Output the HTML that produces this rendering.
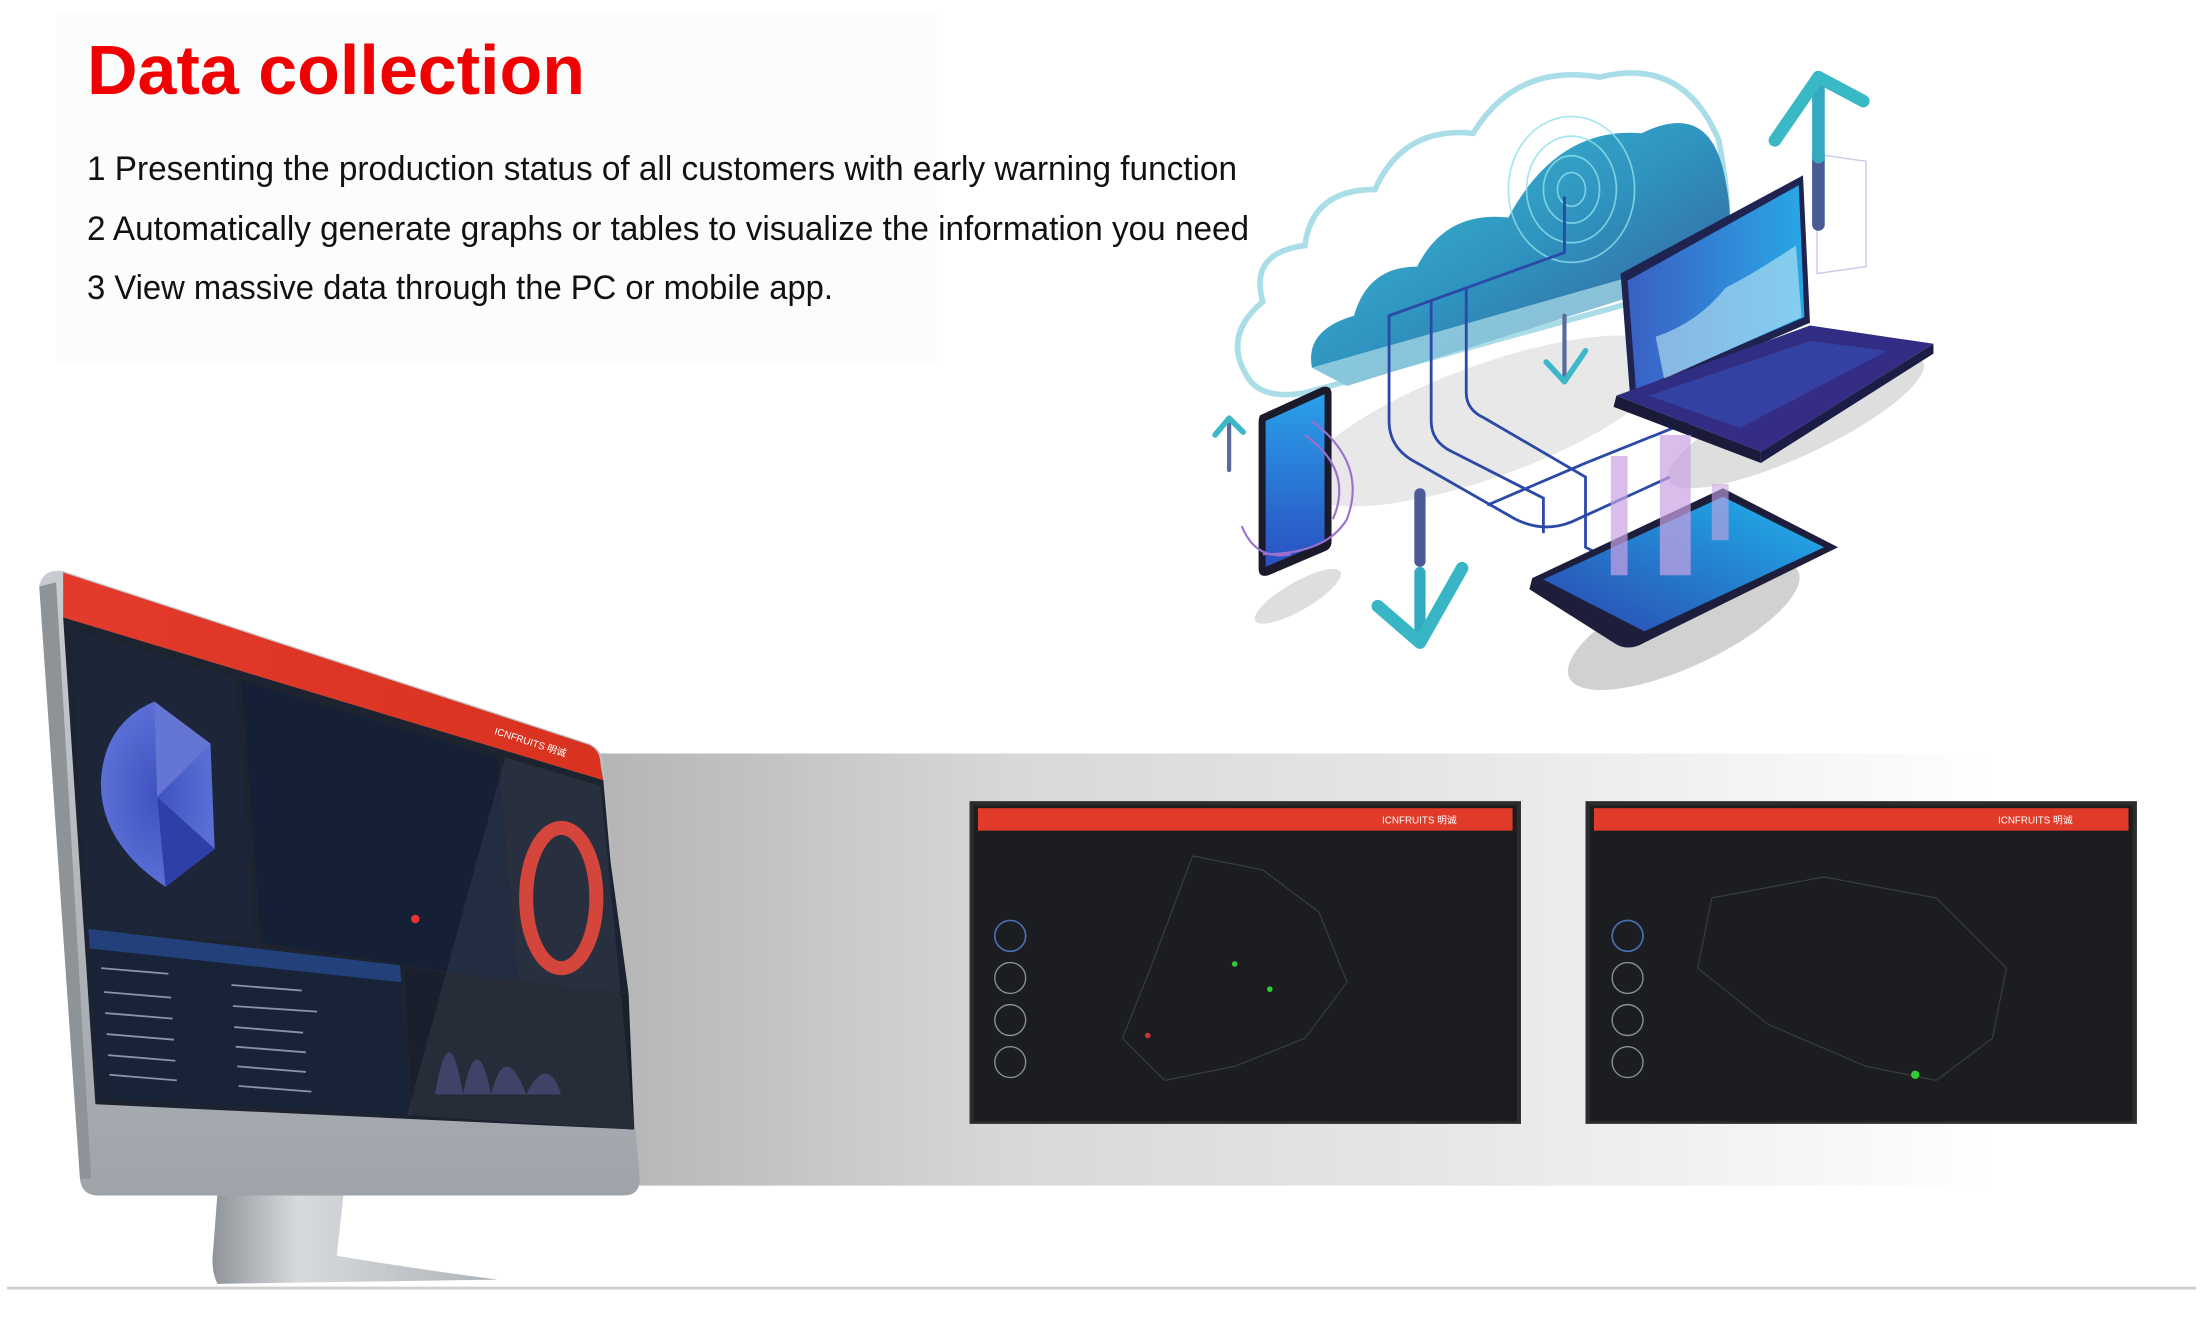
<!DOCTYPE html>
<html><head><meta charset="utf-8"><style>
html,body{margin:0;padding:0;background:#fff;}
svg{display:block}
</style></head><body>
<svg width="2200" height="1320" viewBox="0 0 2200 1320" xmlns="http://www.w3.org/2000/svg">
<defs>
<linearGradient id="band" x1="0" x2="1" y1="0" y2="0">
<stop offset="0" stop-color="#b4b4b4"/><stop offset="0.3" stop-color="#d8d8d8"/><stop offset="0.6" stop-color="#e6e6e6"/><stop offset="0.9" stop-color="#f8f8f8"/><stop offset="1" stop-color="#fff"/></linearGradient>
<linearGradient id="cloud" x1="0" y1="0" x2="1" y2="1">
<stop offset="0" stop-color="#3fc3d6"/><stop offset="0.5" stop-color="#2f93bf"/><stop offset="1" stop-color="#3a4f8e"/></linearGradient>
<linearGradient id="red" x1="0" y1="0" x2="1" y2="0"><stop offset="0" stop-color="#e33a2c"/><stop offset="1" stop-color="#d9321f"/></linearGradient>
<linearGradient id="silver" x1="0" y1="0" x2="1" y2="0"><stop offset="0" stop-color="#8f9499"/><stop offset="0.3" stop-color="#d7dadd"/><stop offset="1" stop-color="#aeb3b8"/></linearGradient>
<linearGradient id="chin" x1="0" y1="0" x2="0" y2="1"><stop offset="0" stop-color="#c9ccd0"/><stop offset="1" stop-color="#9fa4aa"/></linearGradient>
<linearGradient id="lapscr" x1="0" y1="0" x2="1" y2="0"><stop offset="0" stop-color="#3b5fc4"/><stop offset="1" stop-color="#28a7e6"/></linearGradient>
<linearGradient id="lapbase" x1="0" y1="0" x2="1" y2="1"><stop offset="0" stop-color="#2a2f7e"/><stop offset="1" stop-color="#3b2a8a"/></linearGradient>
<linearGradient id="tab" x1="0" y1="1" x2="1" y2="0"><stop offset="0" stop-color="#2b46b0"/><stop offset="1" stop-color="#1fb4ec"/></linearGradient>
<linearGradient id="phone" x1="0" y1="0" x2="0" y2="1"><stop offset="0" stop-color="#2aa0ea"/><stop offset="1" stop-color="#2a50c0"/></linearGradient>
<radialGradient id="pie"><stop offset="0" stop-color="#3f52c0"/><stop offset="1" stop-color="#5a6fd6"/></radialGradient>
</defs>
<rect x="56" y="14" width="881" height="351" fill="#fbfcfc"/>
<text x="87" y="94" font-family="Liberation Sans, sans-serif" font-weight="bold" font-size="70" fill="#f00000" textLength="498" lengthAdjust="spacingAndGlyphs">Data collection</text>
<g font-family="Liberation Sans, sans-serif" font-size="34" fill="#111">
<text x="87" y="180" textLength="1150" lengthAdjust="spacingAndGlyphs">1 Presenting the production status of all customers with early warning function</text>
<text x="87" y="240" textLength="1162" lengthAdjust="spacingAndGlyphs">2 Automatically generate graphs or tables to visualize the information you need</text>
<text x="87" y="299" textLength="746" lengthAdjust="spacingAndGlyphs">3 View massive data through the PC or mobile app.</text>
</g>
<g transform="scale(1.4031)">
<rect x="420" y="537" width="1000" height="308" fill="url(#band)"/>
<line x1="5" y1="918" x2="1565" y2="918" stroke="#cfcfcf" stroke-width="2"/>
<g>
<rect x="691" y="571" width="393" height="230" fill="#2c2c2c"/>
<rect x="694" y="574" width="387" height="225" fill="#1c1d20"/>
<rect x="697" y="576" width="381" height="16" fill="#e03a28"/>
<text x="985" y="587" font-size="7" fill="#fff" font-family="Liberation Sans, sans-serif">ICNFRUITS 明诚</text>
<path d="M850 610 L900 620 L940 650 L960 700 L930 740 L880 760 L830 770 L800 740 L820 690 Z" fill="none" stroke="#3a3d44" stroke-width="0.8"/>
<g fill="none" stroke="#4a6fb0" stroke-width="1.2"><circle cx="720" cy="667" r="11"/></g>
<g fill="none" stroke="#8a8f96" stroke-width="1"><circle cx="720" cy="697" r="11"/><circle cx="720" cy="727" r="11"/><circle cx="720" cy="757" r="11"/></g>
<circle cx="880" cy="687" r="2" fill="#3c3"/><circle cx="905" cy="705" r="2" fill="#3c3"/><circle cx="818" cy="738" r="2" fill="#c33"/>
</g>
<g>
<rect x="1130" y="571" width="393" height="230" fill="#2c2c2c"/>
<rect x="1133" y="574" width="387" height="225" fill="#1c1d20"/>
<rect x="1136" y="576" width="381" height="16" fill="#e03a28"/>
<text x="1424" y="587" font-size="7" fill="#fff" font-family="Liberation Sans, sans-serif">ICNFRUITS 明诚</text>
<path d="M1220 640 L1300 625 L1380 640 L1430 690 L1420 740 L1380 770 L1330 760 L1260 730 L1210 690 Z" fill="none" stroke="#3a3d44" stroke-width="0.8"/>
<g fill="none" stroke="#4a6fb0" stroke-width="1.2"><circle cx="1160" cy="667" r="11"/></g>
<g fill="none" stroke="#8a8f96" stroke-width="1"><circle cx="1160" cy="697" r="11"/><circle cx="1160" cy="727" r="11"/><circle cx="1160" cy="757" r="11"/></g>
<circle cx="1365" cy="766" r="3" fill="#3c3"/>
</g>
<!-- monitor -->
<path d="M155 850 L245 850 L240 895 Q300 905 355 912 L155 915 Q150 905 152 890 Z" fill="url(#silver)"/>
<path d="M28 418 Q30 405 45 407 L420 530 Q430 535 430 545 L456 840 Q456 852 445 852 L70 852 Q58 852 57 840 Z" fill="url(#chin)"/>
<path d="M28 418 L57 840 L65 840 L40 415 Z" fill="#8e9398"/>
<path d="M45 408 L420 531 Q428 535 428 545 L430 556 L45 440 Z" fill="url(#red)"/>
<path d="M45 440 L430 556 L452 805 L68 787 Z" fill="#1e2330"/>
<path d="M50 448 L168 484 L182 672 L62 662 Z" fill="#1d2639"/>
<path d="M172 485 L355 540 L370 700 L186 672 Z" fill="#152036"/>
<path d="M358 541 L428 562 L448 708 L372 700 Z" fill="#1b2233"/>
<path d="M63 662 L285 688 L292 795 L70 783 Z" fill="#182338"/>
<path d="M63 662 L285 688 L286 700 L64 676 Z" fill="#22407a"/>
<path d="M288 690 L448 708 L452 805 L294 796 Z" fill="#1a1f2d"/>
<path d="M110 500 L150 530 L153 605 L118 632 Q70 600 72 555 Q75 515 110 500 Z" fill="url(#pie)"/>
<path d="M110 500 L112 568 L150 530 Z" fill="#6475d4"/>
<path d="M112 568 L153 605 L118 632 Z" fill="#2e3fa8"/>
<ellipse cx="400" cy="640" rx="25" ry="50" fill="none" stroke="#d23a30" stroke-width="10"/>
<path d="M310 780 Q320 720 330 780 Q340 730 350 780 Q360 740 375 780 Q390 750 400 780 Z" fill="#3a3f6a" opacity="0.8"/>
<g stroke="#8a93a8" stroke-width="1.3">
<line x1="72" y1="690" x2="120" y2="694"/><line x1="74" y1="707" x2="122" y2="711"/><line x1="75" y1="722" x2="123" y2="726"/><line x1="76" y1="737" x2="124" y2="741"/><line x1="77" y1="752" x2="125" y2="756"/><line x1="78" y1="766" x2="126" y2="770"/>
<line x1="165" y1="702" x2="215" y2="706"/><line x1="166" y1="717" x2="226" y2="721"/><line x1="167" y1="732" x2="216" y2="736"/><line x1="168" y1="746" x2="218" y2="750"/><line x1="169" y1="760" x2="218" y2="764"/><line x1="170" y1="774" x2="222" y2="778"/>
</g>
<circle cx="296" cy="655" r="3" fill="#e33"/>
<path d="M360 540 L428 560 L452 805 L290 795 Z" fill="#fff" opacity="0.06"/>
<text x="352" y="523" font-size="7" fill="#fff" transform="rotate(18 352 523)" font-family="Liberation Sans, sans-serif">ICNFRUITS 明诚</text>
<!-- illustration -->
<ellipse cx="1060" cy="300" rx="140" ry="40" fill="#d8d8d8" opacity="0.6" transform="rotate(-20 1060 300)"/>
<ellipse cx="1200" cy="445" rx="90" ry="30" fill="#bdbdbd" opacity="0.7" transform="rotate(-25 1200 445)"/>
<ellipse cx="1280" cy="300" rx="100" ry="25" fill="#c8c8c8" opacity="0.6" transform="rotate(-25 1280 300)"/>
<ellipse cx="925" cy="425" rx="35" ry="10" fill="#c8c8c8" opacity="0.6" transform="rotate(-30 925 425)"/>
<path d="M890 270 Q870 240 900 215 Q890 180 930 175 Q935 135 980 135 Q1000 90 1050 95 Q1080 45 1140 55 Q1200 40 1225 100 Q1240 180 1220 200 L930 280 Q900 285 890 270 Z" fill="none" stroke="#a9dde8" stroke-width="4"/>
<path d="M935 262 Q930 235 965 225 Q975 190 1010 190 Q1030 150 1075 155 Q1110 90 1170 95 Q1220 70 1230 130 Q1240 180 1215 195 L960 275 Z" fill="url(#cloud)"/>
<path d="M935 262 L960 275 L1215 195 L1205 185 Z" fill="#9fd3e2" opacity="0.8"/>
<g fill="none" stroke="#8fe0ea" stroke-width="1.2" opacity="0.8"><ellipse cx="1120" cy="135" rx="10" ry="12"/><ellipse cx="1120" cy="135" rx="20" ry="24"/><ellipse cx="1120" cy="135" rx="32" ry="38"/><ellipse cx="1120" cy="135" rx="45" ry="52"/></g>
<g fill="none" stroke="#2b4aa8" stroke-width="2">
<path d="M1115 140 L1115 180 L990 225 L990 300 Q990 320 1010 330 L1080 370 Q1100 380 1120 372 L1190 340"/>
<path d="M1020 215 L1020 300 Q1020 315 1035 322 L1100 355 L1100 380"/>
<path d="M1045 205 L1045 280 Q1045 292 1058 298 L1130 340 L1130 390 L1150 400"/>
<path d="M1060 360 L1130 330 L1230 290 L1240 270"/>
</g>
<path d="M1155 195 L1285 125 L1290 230 L1162 285 Z" fill="#1e2350"/>
<path d="M1160 200 L1282 132 L1286 226 L1166 278 Z" fill="url(#lapscr)"/>
<path d="M1180 240 Q1210 230 1230 205 Q1250 195 1280 175 L1284 226 L1186 270 Z" fill="#bfe9f5" opacity="0.6"/>
<path d="M1152 282 L1290 232 L1378 245 L1255 322 Z" fill="url(#lapbase)"/>
<path d="M1152 282 L1255 322 L1255 330 L1150 290 Z" fill="#1a1a3a"/>
<path d="M1255 322 L1378 245 L1378 252 L1255 330 Z" fill="#1c1d46"/>
<path d="M1175 282 L1290 243 L1345 250 L1240 305 Z" fill="#3550b8" opacity="0.6"/>
<path d="M1295 110 L1330 115 L1330 190 L1295 195 Z" fill="none" stroke="#c8c8e8" stroke-width="1"/>
<path d="M1092 412 L1228 348 L1310 390 L1172 458 Q1160 465 1150 458 L1090 420 Z" fill="#1c1e3c"/>
<path d="M1100 413 L1228 354 L1300 390 L1172 450 Z" fill="url(#tab)"/>
<rect x="1148" y="325" width="12" height="85" fill="#c9a3e3" opacity="0.7"/>
<rect x="1183" y="310" width="22" height="100" fill="#c9a3e3" opacity="0.7"/>
<rect x="1220" y="345" width="12" height="40" fill="#c9a3e3" opacity="0.6"/>
<path d="M898 296 L942 276 Q949 274 949 281 L949 386 Q949 391 944 393 L904 410 Q897 412 897 405 L897 302 Q897 298 898 296 Z" fill="#1a1a2a"/>
<path d="M902 300 L944 281 L944 386 L902 404 Z" fill="url(#phone)"/>
<g fill="none" stroke="#9a6fd0" stroke-width="1.5"><path d="M935 300 Q975 330 960 370 Q945 395 900 395"/><path d="M930 310 Q965 335 950 370"/><path d="M885 375 Q895 400 920 395"/></g>
<g fill="none" stroke-linecap="round" stroke-linejoin="round">
<path d="M1296 160 L1296 110" stroke="#4a5a96" stroke-width="9"/>
<path d="M1296 112 L1296 55" stroke="#33aac0" stroke-width="9"/>
<path d="M1265 100 L1296 55 L1328 72" stroke="#39b8c6" stroke-width="9"/>
<path d="M1012 352 L1012 400" stroke="#4a5a96" stroke-width="8"/>
<path d="M1012 408 L1012 455" stroke="#33aac0" stroke-width="8"/>
<path d="M982 432 L1012 458 L1042 405" stroke="#38b6c6" stroke-width="9"/>
<path d="M1115 225 L1115 270" stroke="#5b6a9a" stroke-width="3"/>
<path d="M1102 258 L1115 272 L1130 250" stroke="#3cb8c8" stroke-width="4"/>
<path d="M876 335 L876 302" stroke="#5b6a9a" stroke-width="3"/>
<path d="M866 310 L876 298 L886 308" stroke="#3cb8c8" stroke-width="4"/>
</g>
</g>
</svg>
</body></html>
